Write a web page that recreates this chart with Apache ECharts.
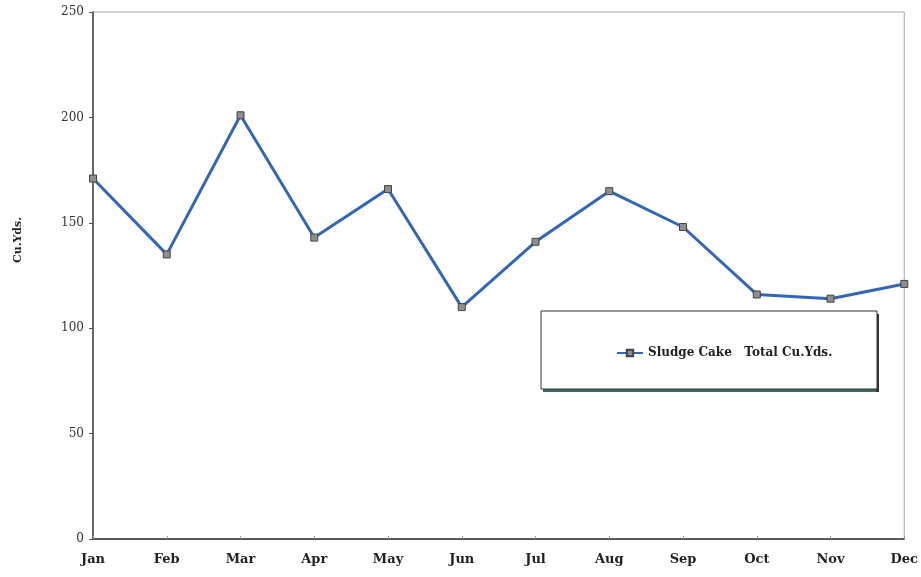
<!DOCTYPE html>
<html>
<head>
<meta charset="utf-8">
<script src="https://cdn.jsdelivr.net/npm/echarts@6/dist/echarts.min.js"></script>
<style>
  html, body { margin: 0; padding: 0; background: #ffffff; }
  #chart { width: 921px; height: 577px; }
</style>
</head>
<body>
<div id="chart"></div>
<script>
// Monthly sludge cake hauled, cubic yards
const months = ['Jan', 'Feb', 'Mar', 'Apr', 'May', 'Jun', 'Jul', 'Aug', 'Sep', 'Oct', 'Nov', 'Dec'];
const sludgeCake = [171, 135, 201, 143, 166, 110, 141, 165, 148, 116, 114, 121];
const yTicks = [0, 50, 100, 150, 200, 250];
const seriesName = 'Sludge Cake   Total Cu.Yds.';
const axisTitle = 'Cu.Yds.';

const chart = echarts.init(document.getElementById('chart'));

chart.setOption({
  backgroundColor: '#ffffff',
  animation: false,
  grid: { left: 93, right: 16, top: 12, bottom: 38, show: true, borderColor: '#a8a8a8', borderWidth: 1, backgroundColor: 'transparent' },
  legend: {
    data: [seriesName],
    left: 611, top: 342,
    itemWidth: 26, itemHeight: 8, itemGap: 4,
    textStyle: { fontFamily: 'DejaVu Serif', fontWeight: 'bold', fontSize: 12, color: '#222' }
  },
  graphic: [
    {
      type: 'rect',
      shape: { x: 543, y: 389, width: 336, height: 3 },
      style: { fill: '#3c6a62' },
      z: 0
    },
    {
      type: 'rect',
      shape: { x: 876, y: 314, width: 3, height: 78 },
      style: { fill: '#333' },
      z: 0
    },
    {
      type: 'rect',
      shape: { x: 541, y: 311, width: 336, height: 78 },
      style: { fill: '#ffffff', stroke: '#333', lineWidth: 1 },
      z: 1
    },
    {
      type: 'text',
      x: 18, y: 240, rotation: Math.PI / 2,
      style: { text: axisTitle, fontFamily: 'DejaVu Serif', fontWeight: 'bold', fontSize: 11, fill: '#222', align: 'center', verticalAlign: 'middle' }
    }
  ],
  xAxis: {
    type: 'category',
    data: months,
    boundaryGap: false,
    axisLine: { lineStyle: { color: '#333', width: 1.5 } },
    axisTick: { show: true, inside: true, length: 3, lineStyle: { color: '#999' } },
    axisLabel: { fontFamily: 'DejaVu Serif', fontWeight: 'bold', fontSize: 13, color: '#222', margin: 14 },
    splitLine: { show: false }
  },
  yAxis: {
    type: 'value',
    min: yTicks[0], max: yTicks[yTicks.length - 1], interval: 50,
    axisLine: { show: true, lineStyle: { color: '#444', width: 1.5 } },
    axisTick: { show: true, length: 4, lineStyle: { color: '#555' } },
    axisLabel: { fontFamily: 'DejaVu Serif', fontSize: 12, color: '#333', margin: 9 },
    splitLine: { show: false }
  },
  series: [{
    name: seriesName,
    type: 'line',
    data: sludgeCake,
    symbol: 'rect',
    symbolSize: 7,
    z: 5,
    lineStyle: { color: '#3366b8', width: 3 },
    itemStyle: { color: '#8e8e8e', borderColor: '#444', borderWidth: 1 }
  }]
});
</script>
</body>
</html>
